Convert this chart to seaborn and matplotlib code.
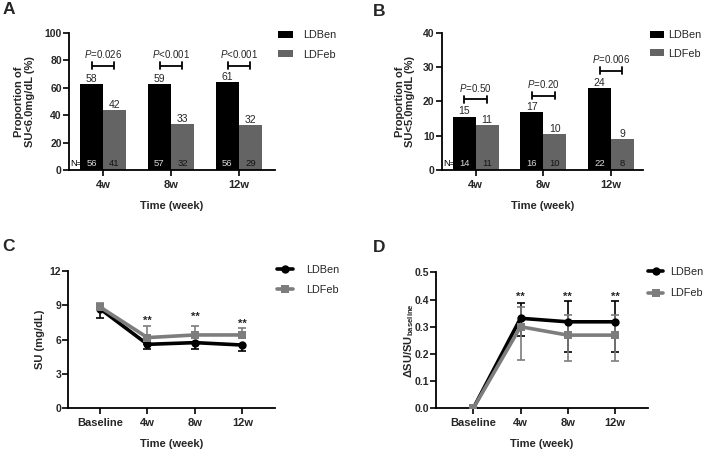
import numpy as np
import pandas as pd
import matplotlib
matplotlib.use("Agg")
import matplotlib.pyplot as plt
import seaborn as sns
from matplotlib.patches import Patch
from matplotlib.lines import Line2D
import matplotlib.transforms as mtransforms

sns.set_theme(style="ticks")
plt.rcParams["font.family"] = ["Liberation Sans", "DejaVu Sans"]
plt.rcParams["mathtext.fontset"] = "custom"
plt.rcParams["mathtext.rm"] = "Liberation Sans"
plt.rcParams["mathtext.it"] = "Liberation Sans:italic"
plt.rcParams["mathtext.bf"] = "Liberation Sans:bold"

# ---------------- data ----------------
groups = ["LDBen", "LDFeb"]
weeks = ["4w", "8w", "12w"]

a_ben = [62.8, 62.8, 64.0]
a_feb = [43.8, 33.3, 32.8]
a_ben_lbl = ["58", "59", "61"]
a_feb_lbl = ["42", "33", "32"]
a_ben_n = ["56", "57", "56"]
a_feb_n = ["41", "32", "29"]
a_p = ["=0.026", "<0.001", "<0.001"]
a_p_y = [76, 76, 76]

b_ben = [15.6, 16.8, 23.9]
b_feb = [13.0, 10.4, 9.0]
b_ben_lbl = ["15", "17", "24"]
b_feb_lbl = ["11", "10", "9"]
b_ben_n = ["14", "16", "22"]
b_feb_n = ["11", "10", "8"]
b_p = ["=0.50", "=0.20", "=0.006"]
b_p_y = [20.6, 21.7, 29.0]

time_pts = ["Baseline", "4w", "8w", "12w"]
c_ben = [8.70, 5.59, 5.74, 5.53]
c_ben_lo = [0.78, 0.38, 0.58, 0.49]
c_feb = [8.85, 6.18, 6.41, 6.41]
c_feb_hi = [0.38, 1.01, 0.81, 0.64]
c_star_y = [7.40, 7.70, 7.15]

d_ben = [0.0, 0.331, 0.318, 0.318]
d_ben_lo = [0.0, 0.065, 0.110, 0.110]
d_ben_hi = [0.0, 0.057, 0.078, 0.078]
d_feb = [0.0, 0.300, 0.269, 0.269]
d_feb_lo = [0.0, 0.122, 0.094, 0.094]
d_feb_hi = [0.0, 0.074, 0.074, 0.074]
d_star_y = [0.400, 0.400, 0.400]

BAR_COLORS = {"LDBen": "#000000", "LDFeb": "#646464"}
LINE_COLORS = {"LDBen": "#000000", "LDFeb": "#7d7d7d"}

W, H = 709, 453
fig = plt.figure(figsize=(W / 100, H / 100), dpi=100)


def px_axes(l, r, t, b):
    return fig.add_axes([l / W, 1 - b / H, (r - l) / W, (b - t) / H])


axA = px_axes(69, 275, 33, 170)
axB = px_axes(441.7, 643, 33, 170)
axC = px_axes(68.3, 275, 271, 408.3)
axD = px_axes(436, 648, 272.3, 408.3)


def style_axis(ax, xlabel, ylabel, ylab_x, xtick_labels):
    for s in ["top", "right"]:
        ax.spines[s].set_visible(False)
    for s in ["left", "bottom"]:
        ax.spines[s].set_linewidth(1.3)
        ax.spines[s].set_color("black")
    ax.tick_params(axis="both", direction="out", length=4, width=1.2, color="black")
    ax.tick_params(axis="x", labelsize=8, pad=3)
    ax.tick_params(axis="y", labelsize=7.5, pad=1.2)
    ax.set_xticklabels(xtick_labels)
    for t in ax.get_xticklabels() + ax.get_yticklabels():
        t.set_fontweight("bold")
    ax.set_xlabel(xlabel, fontsize=8, fontweight="bold", va="center")
    ax.xaxis.set_label_coords(0.5, -0.262)
    ax.set_ylabel(ylabel, fontsize=8, fontweight="bold", va="center", linespacing=1.1)
    ax.yaxis.set_label_coords(ylab_x, 0.5)
    ax.grid(False)


def bar_panel(ax, ben, feb, ben_lbl, feb_lbl, ben_n, feb_n, pvals, py, ymax, ystep, xright, ylabel, ylab_x):
    df = pd.DataFrame({
        "time": weeks * 2,
        "group": ["LDBen"] * 3 + ["LDFeb"] * 3,
        "value": ben + feb,
    })
    sns.barplot(data=df, x="time", y="value", hue="group", order=weeks, hue_order=groups,
                palette=BAR_COLORS, width=0.68, errorbar=None, saturation=1,
                legend=False, ax=ax, linewidth=0)
    ax.set_ylim(0, ymax)
    ax.set_yticks(np.arange(0, ymax + 0.1, ystep))
    ax.set_xlim(-0.5, xright)
    ax.set_xticks(range(3))
    style_axis(ax, "Time (week)", ylabel, ylab_x, weeks)
    trans = mtransforms.blended_transform_factory(ax.transData, ax.transAxes)
    off = 0.17
    for i in range(3):
        ax.annotate(ben_lbl[i], (i - off, ben[i]), xytext=(0, 0.3), textcoords="offset points",
                    ha="center", va="bottom", fontsize=7.5)
        ax.annotate(feb_lbl[i], (i + off, feb[i]), xytext=(0, 0.3), textcoords="offset points",
                    ha="center", va="bottom", fontsize=7.5)
        ax.text(i - off, 0.045, ben_n[i], transform=trans, ha="center", va="center",
                fontsize=6.8, color="#d8d8d8")
        ax.text(i + off, 0.045, feb_n[i], transform=trans, ha="center", va="center",
                fontsize=6.8, color="#151515")
        # p bracket
        x0, x1 = i - 0.165, i + 0.165
        ax.plot([x0, x1], [py[i], py[i]], color="black", lw=1.3, solid_capstyle="butt")
        capd = ymax * 0.025
        ax.plot([x0, x0], [py[i] - capd, py[i] + capd], color="black", lw=1.3)
        ax.plot([x1, x1], [py[i] - capd, py[i] + capd], color="black", lw=1.3)
        ax.annotate("$P$" + pvals[i], (i, py[i]), xytext=(0, 4), textcoords="offset points",
                    ha="center", va="bottom", fontsize=7)
    ax.text(0.008, 0.045, "N=", transform=ax.transAxes, ha="left", va="center", fontsize=6.8,
            color="black")


bar_panel(axA, a_ben, a_feb, a_ben_lbl, a_feb_lbl, a_ben_n, a_feb_n, a_p, a_p_y,
          100, 20, 2.53, "Proportion of\nSU<6.0mg/dL (%)", -0.215)
bar_panel(axB, b_ben, b_feb, b_ben_lbl, b_feb_lbl, b_ben_n, b_feb_n, b_p, b_p_y,
          40, 10, 2.47, "Proportion of\nSU<5.0mg/dL (%)", -0.182)


def line_panel(ax, ben, feb, ben_err, feb_err, star_y, ymax, yticks, xl, xr, ylabel, ylab_x, fmt):
    pos = list(range(len(time_pts)))
    df = pd.DataFrame({
        "pos": pos * 2,
        "group": ["LDBen"] * 4 + ["LDFeb"] * 4,
        "value": ben + feb,
    })
    for vals, err, g in [(ben, ben_err, "LDBen"), (feb, feb_err, "LDFeb")]:
        keep = [i for i in pos if err[0][i] > 0 or err[1][i] > 0]
        ax.errorbar([pos[i] for i in keep], [vals[i] for i in keep],
                    yerr=[[err[0][i] for i in keep], [err[1][i] for i in keep]],
                    fmt="none", ecolor=LINE_COLORS[g],
                    elinewidth=1.2, capsize=3, capthick=1.2, zorder=2)
    sns.lineplot(data=df, x="pos", y="value", hue="group", style="group", hue_order=groups,
                 style_order=groups, markers={"LDBen": "o", "LDFeb": "s"}, dashes=False,
                 palette=LINE_COLORS, linewidth=2.6, markersize=6, markeredgewidth=0,
                 legend=False, ax=ax, zorder=3)
    ax.set_ylim(0, ymax)
    ax.set_yticks(yticks)
    ax.set_xlim(xl, xr)
    ax.set_xticks(pos)
    ax.yaxis.set_major_formatter(matplotlib.ticker.FormatStrFormatter(fmt))
    style_axis(ax, "Time (week)", ylabel, ylab_x, time_pts)
    for i, y in enumerate(star_y):
        ax.text(i + 1, y, "**", ha="center", va="baseline", fontsize=8, fontweight="bold")


line_panel(axC, c_ben, c_feb, [c_ben_lo, [0] * 4], [[0] * 4, c_feb_hi], c_star_y,
           12, [0, 3, 6, 9, 12], -0.67, 3.69, "SU (mg/dL)", -0.137, "%d")
line_panel(axD, d_ben, d_feb, [d_ben_lo, d_ben_hi], [d_feb_lo, d_feb_hi], d_star_y,
           0.5, [0, 0.1, 0.2, 0.3, 0.4, 0.5], -0.79, 3.70,
           r"ΔSU/SU$_{\mathbf{baseline}}$", -0.128, "%.1f")

# legends
bar_handles = [Patch(facecolor=BAR_COLORS[g], edgecolor="none") for g in groups]
line_handles = [Line2D([], [], color=LINE_COLORS["LDBen"], lw=2.6, marker="o", markersize=6,
                       markeredgewidth=0),
                Line2D([], [], color=LINE_COLORS["LDFeb"], lw=2.6, marker="s", markersize=6,
                       markeredgewidth=0)]

common = dict(loc="upper left", frameon=False, fontsize=7.8, borderpad=0, borderaxespad=0,
              bbox_transform=fig.transFigure)
axA.legend(bar_handles, groups, bbox_to_anchor=(278 / W, 1 - 30 / H), handlelength=1.4,
           handleheight=0.6, handletextpad=0.9, labelspacing=0.9, **common)
axB.legend(bar_handles, groups, bbox_to_anchor=(650 / W, 1 - 30 / H), handlelength=1.3,
           handleheight=0.6, handletextpad=0.35, labelspacing=0.8, **common)
axC.legend(line_handles, groups, bbox_to_anchor=(277 / W, 1 - 265 / H), handlelength=1.5,
           handletextpad=1.2, labelspacing=0.9, **common)
axD.legend(line_handles, groups, bbox_to_anchor=(648 / W, 1 - 267 / H), handlelength=1.4,
           handletextpad=0.6, labelspacing=1.05, **common)

# panel letters
for letter, x, y in [("A", 2.5, 2), ("B", 372.5, 4), ("C", 2, 239), ("D", 372.5, 240)]:
    fig.text(x / W, 1 - y / H, letter, ha="left", va="top", fontsize=12.5, fontweight="bold")

fig.savefig("out.png", dpi=100)
